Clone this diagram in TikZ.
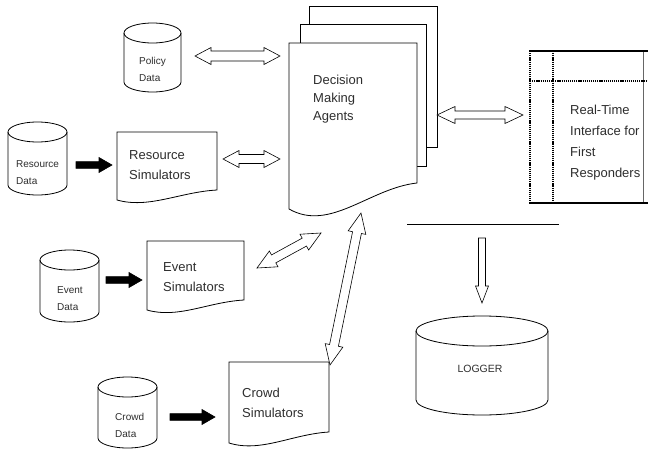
\documentclass[tikz,border=0pt]{standalone}
\usepackage{fontspec}
\setmainfont{Liberation Sans}
\usetikzlibrary{calc,fit}

% database cylinder drawn round a box node: #1 node name, #2 half-height of the end ellipses (pt)
\newcommand\dbcyl[2]{%
  \draw[outline, fill=white] let \p1=(#1.south west), \p2=(#1.north east) in
    (\x1,\y2-#2pt) -- (\x1,\y1+#2pt)
    arc[start angle=180, end angle=360, x radius={(\x2-\x1)/2}, y radius=#2pt]
    -- (\x2,\y2-#2pt);
  \draw[outline] let \p1=(#1.south west), \p2=(#1.north east) in
    (\x1,\y2-#2pt) arc[start angle=180, end angle=-180, x radius={(\x2-\x1)/2}, y radius=#2pt];
}
% document sheet with a wavy lower edge: #1 node name, #2 rise of the right-hand corner (pt)
\newcommand\docshape[2]{%
  \draw[outline, fill=white] let \p1=(#1.south west), \p2=(#1.north east) in
    (\x1,\y2) -- (\x2,\y2) -- (\x2,\y1+#2pt)
    .. controls ({\x2-0.37*(\x2-\x1)},{\y1+0.8*#2pt}) and ({\x1+0.32*(\x2-\x1)},{\y1-0.9*#2pt}) .. (\x1,\y1)
    -- cycle;
}

\tikzset{
  outline/.style={line width=0.8pt, draw=black},
  box/.style={inner sep=0pt, outer sep=0pt, draw=none},
  lbl/.style={inner sep=0pt, anchor=west, align=left, text=black!82,
    font=\fontsize{13}{20}\selectfont},
  small/.style={lbl, font=\fontsize{10}{17}\selectfont},
  % hollow two-headed block arrow: head length / head half-width / shaft half-width
  dbl/.style n args={3}{line width=0.6pt, draw=black, fill=white, to path={
    let \p1=(\tikztostart), \p2=(\tikztotarget),
        \n1={atan2(\y2-\y1,\x2-\x1)}, \n2={veclen(\x2-\x1,\y2-\y1)} in
    {[shift={(\p1)}, rotate=\n1]
      (0,0) -- (#1,#2) -- (#1,#3) -- (\n2-#1,#3) -- (\n2-#1,#2) -- (\n2,0)
      -- (\n2-#1,-#2) -- (\n2-#1,-#3) -- (#1,-#3) -- (#1,-#2) -- cycle}}},
  % one-headed block arrow
  sgl/.style n args={3}{line width=0.6pt, draw=black, to path={
    let \p1=(\tikztostart), \p2=(\tikztotarget),
        \n1={atan2(\y2-\y1,\x2-\x1)}, \n2={veclen(\x2-\x1,\y2-\y1)} in
    {[shift={(\p1)}, rotate=\n1]
      (0,-#3) -- (0,#3) -- (\n2-#1,#3) -- (\n2-#1,#2) -- (\n2,0)
      -- (\n2-#1,-#2) -- (\n2-#1,-#3) -- cycle}}},
  blk/.style={sgl={13}{7.5}{3.4}, fill=black},
}

\begin{document}
\begin{tikzpicture}[x=1pt, y=-1pt]
\useasboundingbox (0,0) rectangle (648,450);
\fill[white] (0,0) rectangle (648,450);

% decision making agents: a stack of three sheets
\node[box, fit={(309,6) (437,147)}] (dma3) {};
\node[box, fit={(300,24) (426,166)}] (dma2) {};
\node[box, fit={(289,43) (417,209)}] (dma) {};
\draw[outline, fill=white] (dma3.south west) rectangle (dma3.north east);
\draw[outline, fill=white] (dma2.south west) rectangle (dma2.north east);
\docshape{dma}{26}
\node[lbl, font=\fontsize{13}{18}\selectfont] (dma-t) at (313,99.5) {Decision\\Making\\Agents};

% data stores
\node[box, fit={(124,23) (181,92)}] (pd) {};
\dbcyl{pd}{10}
\node[small] (pd-t) at (139,69.5) {Policy\\Data};

\node[box, fit={(8,122) (67,195)}] (rd) {};
\dbcyl{rd}{10}
\node[small] (rd-t) at (16,172.5) {Resource\\Data};

\node[box, fit={(40,250) (99,322)}] (ed) {};
\dbcyl{ed}{10}
\node[small] (ed-t) at (57,298.5) {Event\\Data};

\node[box, fit={(98,377) (157,448)}] (cd) {};
\dbcyl{cd}{10}
\node[small] (cd-t) at (115,425) {Crowd\\Data};

\node[box, fit={(416,316) (548,415)}] (lg) {};
\dbcyl{lg}{15}
\node[inner sep=0pt, text=black!82, font=\fontsize{10.5}{12}\selectfont] (lg-t) at (480,369) {LOGGER};

% simulators
\node[box, fit={(117,132) (217,200)}] (rs) {};
\docshape{rs}{10}
\node[lbl] (rs-t) at (129,165) {Resource\\Simulators};

\node[box, fit={(147,241) (244,310)}] (es) {};
\docshape{es}{10}
\node[lbl] (es-t) at (163,277) {Event\\Simulators};

\node[box, fit={(229,362) (329,443)}] (cs) {};
\docshape{cs}{11}
\node[lbl] (cs-t) at (242,402.5) {Crowd\\Simulators};

% real-time interface window
\node[box, fit={(530,51) (648,203)}] (ui) {};
\draw[line width=0.5pt, draw=black!60] ($(ui.north east)+(-5,0)$) -- ($(ui.south east)+(-5,0)$);
\begin{scope}[line width=1.4pt, dash pattern=on 1.2pt off 0.9pt]
  \draw (ui.north west) -- (ui.south west);
  \draw ($(ui.north west)+(23,0)$) -- ($(ui.south west)+(23,0)$);
  \draw ($(ui.north west)+(0,30)$) -- ($(ui.north east)+(0,30)$);
\end{scope}
\fill[black] ($(ui.north west)+(-0.7,-1.3)$) rectangle ($(ui.north east)+(0,1.3)$);
\fill[black] ($(ui.south west)+(-0.7,-1.3)$) rectangle ($(ui.south east)+(0,1.3)$);
\node[lbl, font=\fontsize{13}{21}\selectfont] (ui-t) at (570,143) {Real-Time\\Interface for\\First\\Responders};

% bar above the logger
\coordinate (barL) at (407,224);
\coordinate (barR) at (559,224);
\draw[line width=0.9pt] (barL) -- (barR);

% data feeds
\draw[blk] ($(rd.east |- rs.west)+(9,-1)$) to ($(rs.west)+(-5,-1)$);
\draw[blk] ($(ed.east |- es.west)+(7,4.5)$) to ($(es.west)+(-5,4.5)$);
\draw[blk] ($(cd.east)+(13,4.5)$) to ($(cd.east -| cs.west)+(-14,4.5)$);

% exchanges with the agents
\draw[dbl={16}{8.5}{5}] ($(pd.east)+(14,-1.5)$) to ($(pd.east -| dma.west)+(-9,-1.5)$);
\draw[dbl={16}{8.5}{4.5}] ($(rs.east)+(6,-7)$) to ($(rs.east -| dma.west)+(-9,-7)$);
\draw[dbl={18}{8.5}{4}] ($(dma.east)+(20,-11)$) to ($(dma.east -| ui.west)+(-7,-11)$);
\draw[dbl={19}{9}{4.5}] ($(es.east)+(13,-7.5)$) to ($(dma.south west)+(32,24)$);
\draw[dbl={20}{9}{4.5}] ($(cs.north east)+(1,3)$) to ($(dma.south west)+(72,4)$);

% logging
\draw[sgl={17}{6.5}{3.5}, fill=white] ($(barL)!0.5!(barR)+(-1,14)$) to ($(lg.north)+(0,-13)$);
\end{tikzpicture}
\end{document}
